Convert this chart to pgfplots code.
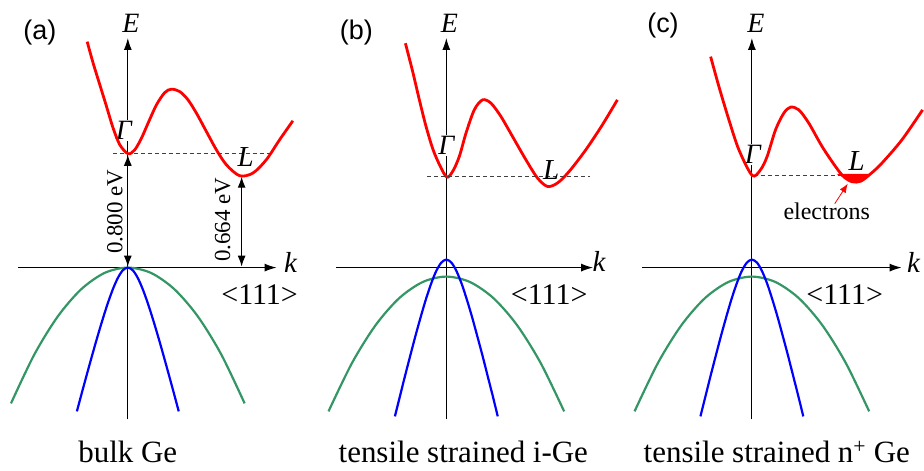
\documentclass[border=0pt]{standalone}
\usepackage{fontspec}
\setmainfont{Liberation Serif}
\newfontfamily\arialfont{Liberation Sans}
\usepackage{pgfplots}
\pgfplotsset{compat=1.18}
\usetikzlibrary{arrows.meta}
\definecolor{cbred}{RGB}{255,0,0}
\definecolor{vbgreen}{RGB}{52,150,100}
\definecolor{vbblue}{RGB}{0,0,255}
\newcommand{\fs}[1]{\fontsize{#1}{#1}\selectfont}
\tikzset{
  axline/.style={black,line width=1.2pt},
  harrow/.style={axline,-{Latex[length=12pt,width=8pt]}},
  darrow/.style={axline,{Latex[length=11pt,width=8pt]}-{Latex[length=11pt,width=8pt]}},
  dashl/.style={black!75,line width=0.9pt,dash pattern=on 4pt off 3pt},
  cb/.style={cbred,line width=2.8pt,smooth},
  hh/.style={vbgreen,line width=2.2pt,smooth},
  lh/.style={vbblue,line width=2.2pt,smooth},
  gam/.style={fill=white,inner sep=1.5pt,font=\fs{28}\itshape},
  lab/.style={font=\fs{29}\itshape},
}
\begin{document}
\begin{tikzpicture}
\begin{axis}[width=924pt,height=471pt,scale only axis,
  xmin=0,xmax=924,ymin=0,ymax=471,y dir=reverse,hide axis,clip=false,
  every axis plot/.append style={no marks},
]
\addplot[draw=none] coordinates {(0,0) (924,471)};

% ================= panel (a) =================
\addplot[harrow] coordinates {(18,268) (277,268)};
\addplot[harrow] coordinates {(128,420) (128,38)};
\node[gam] at (axis cs:124,131) {Γ};
\addplot[cb] coordinates {(87.3,41.7) (93.3,63.3) (100,85) (106.7,106.7) (113.3,128.3) (120,145) (128.3,154) (135,150) (141.7,138.3) (148.3,123.3) (156.7,105) (165,92.7) (171.7,89.3) (180,91.7) (188.3,100) (196.7,113.3) (206.7,131.7) (216.7,150) (226.7,165) (240,176) (253.3,173.3) (266.7,160) (280,140) (293.3,121)};
\addplot[dashl] coordinates {(113,154) (273,154)};
\addplot[darrow] coordinates {(128,155) (128,267)};
\addplot[darrow] coordinates {(242,177) (242,267)};
\addplot[hh] coordinates {(11,404) (34.4,355.0) (57.8,317.0) (81.2,289.8) (104.6,273.4) (128,268) (151.4,273.4) (174.8,289.8) (198.2,317.0) (221.6,355.0) (245,404)};
\addplot[lh] coordinates {(77,412) (82.1,392.9) (87.2,374.2) (92.3,355.8) (97.4,337.9) (102.5,320.8) (107.6,304.8) (112.7,290.5) (117.8,278.8) (122.9,270.8) (128,268) (133.1,270.8) (138.2,278.8) (143.3,290.5) (148.4,304.8) (153.5,320.8) (158.6,337.9) (163.7,355.8) (168.8,374.2) (173.9,392.9) (179,412)};
\node[font=\arialfont\fs{27}] at (axis cs:40,33) {(a)};
\node[font=\fs{28}\itshape] at (axis cs:131,23) {E};
\node[lab] at (axis cs:291,263) {k};
\node[lab] at (axis cs:246,157) {L};
\node[rotate=90,font=\fs{23}] at (axis cs:115,212) {0.800 eV};
\node[rotate=90,font=\fs{23}] at (axis cs:223,220) {0.664 eV};
\node[font=\fs{30}] at (axis cs:260,295) {<111>};
\node[font=\fs{31},anchor=base] at (axis cs:128,463) {bulk Ge};

% ================= panel (b) =================
\addplot[harrow] coordinates {(337,268) (594,268)};
\addplot[harrow] coordinates {(447,420) (447,38)};
\node[gam] at (axis cs:447,146) {Γ};
\addplot[cb] coordinates {(406,43.3) (413.3,71.7) (420,100) (426.7,126.7) (435,153.3) (446.7,176.7) (453.3,171.7) (460,156.7) (466.7,133.3) (475,110) (483.3,100) (491.7,103.3) (501.7,116.7) (513.3,136.7) (526.7,160) (538.3,178.3) (548.3,186.7) (558.3,183.3) (570,171.7) (586.7,150) (603.3,125) (618.3,100)};
\addplot[dashl] coordinates {(428,177) (591,177)};
\addplot[hh] coordinates {(329,412) (352.6,363.4) (376.2,325.6) (399.8,298.6) (423.4,282.4) (447,277) (470.6,282.4) (494.2,298.6) (517.8,325.6) (541.4,363.4) (565,412)};
\addplot[lh] coordinates {(395.5,417) (400.7,396.2) (405.8,375.8) (411.0,355.7) (416.1,336.3) (421.3,317.6) (426.4,300.2) (431.6,284.6) (436.7,271.8) (441.9,263.1) (447,260) (452.2,263.1) (457.3,271.8) (462.5,284.6) (467.6,300.2) (472.8,317.6) (477.9,336.3) (483.1,355.7) (488.2,375.8) (493.4,396.2) (498.5,417)};
\node[font=\arialfont\fs{27}] at (axis cs:357,33) {(b)};
\node[font=\fs{28}\itshape] at (axis cs:450,23) {E};
\node[lab] at (axis cs:600,262) {k};
\node[lab] at (axis cs:552,170) {L};
\node[font=\fs{30}] at (axis cs:550,295) {<111>};
\node[font=\fs{31},anchor=base] at (axis cs:464,463) {tensile strained i-Ge};

% ================= panel (c) =================
\addplot[harrow] coordinates {(643,268) (903,268)};
\addplot[harrow] coordinates {(753,420) (753,38)};
\node[gam] at (axis cs:754,155) {Γ};
\addplot[cb] coordinates {(711.7,56.7) (720,86.7) (730,120) (740,150) (753.3,175.7) (761.7,170) (768.3,156.7) (776.7,130) (785,113.3) (791.7,107.3) (800,110) (810,123.3) (823.3,146.7) (836.7,166.7) (845,177) (853.3,182) (862,181.5) (872,174) (883.3,163.3) (903.3,140) (924,110)};
\addplot[dashl] coordinates {(755,176) (845,176)};
\addplot[cbred,fill=cbred,line width=0.5pt,smooth] coordinates {(839,174.5) (845,177.5) (853,182) (862,181.5) (872,174.5)} -- cycle;
\addplot[cbred,line width=0.8pt,-{Latex[length=9pt,width=7pt]}] coordinates {(836,204) (849,184)};
\addplot[hh] coordinates {(635.5,412) (659,363.4) (682.5,325.6) (706,298.6) (729.5,282.4) (753,277) (776.5,282.4) (800,298.6) (823.5,325.6) (847,363.4) (870.5,412)};
\addplot[lh] coordinates {(701.5,417) (706.7,396.2) (711.8,375.8) (717.0,355.7) (722.1,336.3) (727.3,317.6) (732.4,300.2) (737.6,284.6) (742.7,271.8) (747.9,263.1) (753,260) (758.2,263.1) (763.3,271.8) (768.5,284.6) (773.6,300.2) (778.8,317.6) (783.9,336.3) (789.1,355.7) (794.2,375.8) (799.4,396.2) (804.5,417)};
\node[font=\arialfont\fs{27}] at (axis cs:664,26) {(c)};
\node[font=\fs{28}\itshape] at (axis cs:757,23) {E};
\node[lab] at (axis cs:915,263) {k};
\node[lab] at (axis cs:858,161) {L};
\node[font=\fs{24}] at (axis cs:828,212) {electrons};
\node[font=\fs{30}] at (axis cs:846,295) {<111>};
\node[font=\fs{31},anchor=base] at (axis cs:778,463) {tensile strained n\textsuperscript{+} Ge};
\end{axis}
\end{tikzpicture}
\end{document}
